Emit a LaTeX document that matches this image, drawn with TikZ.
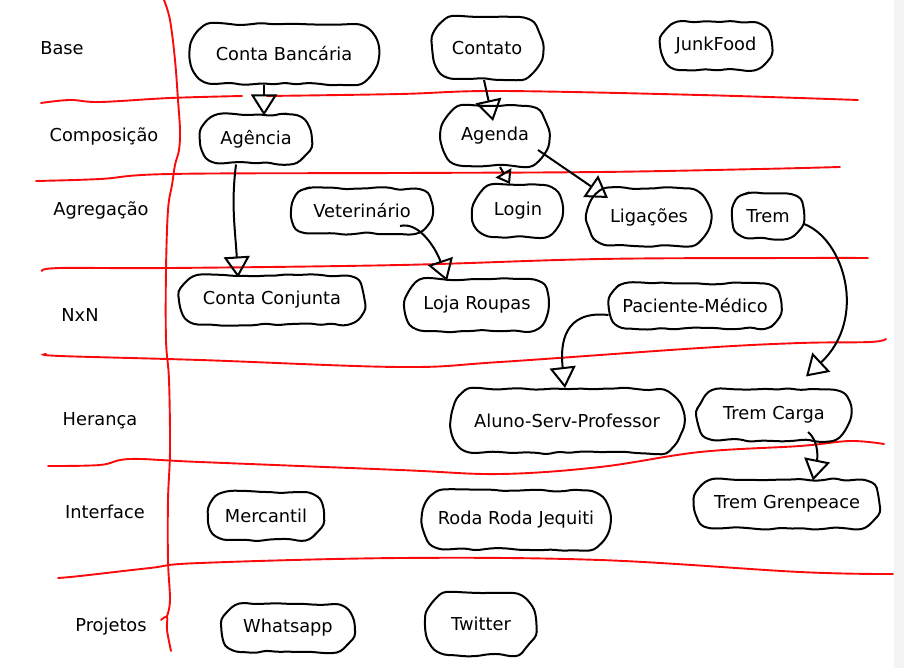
\documentclass[tikz,border=0pt]{standalone}
\usepackage{fontspec}
\setmainfont{DejaVu Sans}
\usetikzlibrary{arrows.meta, shapes.misc, decorations.pathmorphing}
\definecolor{stripgray}{RGB}{243,244,246}
\definecolor{penred}{RGB}{250,10,10}

\begin{document}
\begin{tikzpicture}[x=1pt, y=-1pt, font=\fontsize{17.8}{21}\selectfont]
        % Setup the styles for the sketch
        \tikzset{blob/.style={rounded rectangle,
                              rounded rectangle arc length=140,
                              draw, line width=2pt,
                              inner xsep=2pt, inner ysep=0pt,
                              decorate,
                              decoration={random steps, segment length=11pt, amplitude=1.5pt},
                              rounded corners=4pt},
                 rowlabel/.style={inner sep=0pt},
                 redline/.style={draw=penred, line width=1.9pt, line cap=round},
                 arr/.style={line width=2pt,
                             -{Triangle[open, length=21pt, width=26pt, line width=2pt]}},
                 arrsmall/.style={line width=2pt,
                             -{Triangle[open, length=13pt, width=18pt, line width=2pt]}}}
        \pgfmathsetseed{11}

        % Page and margins
        \useasboundingbox (0,0) rectangle (904,668);
        \fill[white] (0,0) rectangle (904,668);
        \fill[stripgray] (894,0) rectangle (904,668);

        % Red grid
        \draw[redline] plot[smooth, tension=0.6] coordinates {(164,0) (170,20) (175,60) (178,100) (180,130) (179,150) (175,165) (172,185) (168,210) (166,270) (166,340) (169,380) (170,450) (168,500) (168,560) (170,600) (167,616)};
        \draw[redline] plot[smooth, tension=0.6] coordinates {(161,620) (167,617) (167,630) (171,651)};
        \draw[redline] plot[smooth, tension=0.6] coordinates {(41,103) (70,100) (100,102) (170,98) (242,96)};
        \draw[redline] plot[smooth, tension=0.6] coordinates {(267,96) (400,94) (500,91) (700,95) (858,100)};
        \draw[redline] plot[smooth, tension=0.6] coordinates {(36,181) (100,179) (170,174) (400,173) (600,172) (760,169) (840,167)};
        \draw[redline] plot[smooth, tension=0.6] coordinates {(42,271) (60,268) (170,268) (400,265) (600,259) (800,258) (868,258)};
        \draw[redline] plot[smooth, tension=0.6] coordinates {(46,354) (60,356) (200,360) (400,367) (500,362) (700,348) (800,343) (870,342) (886,339)};
        \draw[redline] plot[smooth, tension=0.6] coordinates {(48,466) (100,465) (130,459) (200,462) (400,470) (500,474) (600,467) (700,452) (800,446) (850,441) (884,444)};
        \draw[redline] plot[smooth, tension=0.6] coordinates {(58,578) (80,576) (150,568) (200,563) (400,558) (600,560) (800,572) (893,574)};

        % Row labels
        \node[rowlabel] at (62,48)   (lbase) {Base};
        \node[rowlabel] at (104,136) (lcomp) {Composição};
        \node[rowlabel] at (101,210) (lagre) {Agregação};
        \node[rowlabel] at (80,315)  (lnxn)  {NxN};
        \node[rowlabel] at (100,421) (lhera) {Herança};
        \node[rowlabel] at (105,512) (linte) {Interface};
        \node[rowlabel] at (111,627) (lproj) {Projetos};

        % Draw the classes
        \node[blob, minimum width=190pt, minimum height=60pt] at (284,54)  (conta)    {Conta Bancária};
        \node[blob, minimum width=113pt, minimum height=62pt] at (487,48)  (contato)  {Contato};
        \node[blob, minimum width=113pt, minimum height=48pt] at (716,46)  (junk)     {JunkFood};
        \node[blob, minimum width=112pt, minimum height=49pt] at (256,139) (agencia)  {Agência};
        \node[blob, minimum width=110pt, minimum height=60pt] at (495,136) (agenda)   {Agenda};
        \node[blob, minimum width=142pt, minimum height=45pt] at (362,211) (vet)      {Veterinário};
        \node[blob, minimum width=93pt,  minimum height=52pt] at (518,211) (login)    {Login};
        \node[blob, minimum width=126pt, minimum height=57pt] at (649,217) (lig)      {Ligações};
        \node[blob, minimum width=74pt,  minimum height=45pt] at (768,216) (trem)     {Trem};
        \node[blob, minimum width=187pt, minimum height=49pt] at (272,300) (conjunta) {Conta Conjunta};
        \node[blob, minimum width=147pt, minimum height=52pt] at (477,305) (loja)     {Loja Roupas};
        \node[blob, minimum width=175pt, minimum height=45pt] at (695,306) (pacmed)   {Paciente-Médico};
        \node[blob, minimum width=236pt, minimum height=64pt] at (567,421) (aluno)    {Aluno-Serv-Professor};
        \node[blob, minimum width=155pt, minimum height=51pt] at (774,415) (carga)    {Trem Carga};
        \node[blob, minimum width=116pt, minimum height=48pt] at (266,516) (merc)     {Mercantil};
        \node[blob, minimum width=190pt, minimum height=59pt] at (516,520) (roda)     {Roda Roda Jequiti};
        \node[blob, minimum width=186pt, minimum height=49pt] at (787,504) (green)    {Trem Grenpeace};
        \node[blob, minimum width=134pt, minimum height=48pt] at (288,628) (whats)    {Whatsapp};
        \node[blob, minimum width=113pt, minimum height=62pt] at (481,624) (twitter)  {Twitter};

        % Connect the classes
        \draw[arr] ([xshift=-20pt]conta.south) -- ([xshift=8pt, yshift=-2pt]agencia.north);
        \draw[arr] ([xshift=-3pt]contato.south) -- ([xshift=-2pt, yshift=-16pt]agenda.north);
        \draw[arrsmall] ([xshift=5pt]agenda.south) -- ([xshift=-8pt]login.north);
        \draw[arr] ([xshift=43pt, yshift=-14pt]agenda.center) -- ([xshift=-41pt, yshift=19pt]lig.center);
        \draw[arr] ([xshift=-20pt]agencia.south) .. controls +(-5,40) and +(-3,-50) .. ([xshift=-34pt, yshift=-3pt]conjunta.north);
        \draw[arr] ([xshift=38pt, yshift=-15pt]vet.center) .. controls +(20,-5) and +(-10,-30) .. ([xshift=-30pt, yshift=-3pt]loja.north);
        \draw[arr] ([yshift=-8pt]trem.east) .. controls +(40,15) and +(62,-58) .. ([xshift=32pt, yshift=12pt]carga.north);
        \draw[arr] ([yshift=-9pt]pacmed.west) .. controls +(-45,-5) and +(-5,-44) .. ([xshift=-2pt]aluno.north);
        \draw[arr] ([xshift=34pt, yshift=-17pt]carga.center) .. controls +(12,10) and +(4,-20) .. ([xshift=26pt, yshift=-2pt]green.north);
    \end{tikzpicture}
\end{document}
